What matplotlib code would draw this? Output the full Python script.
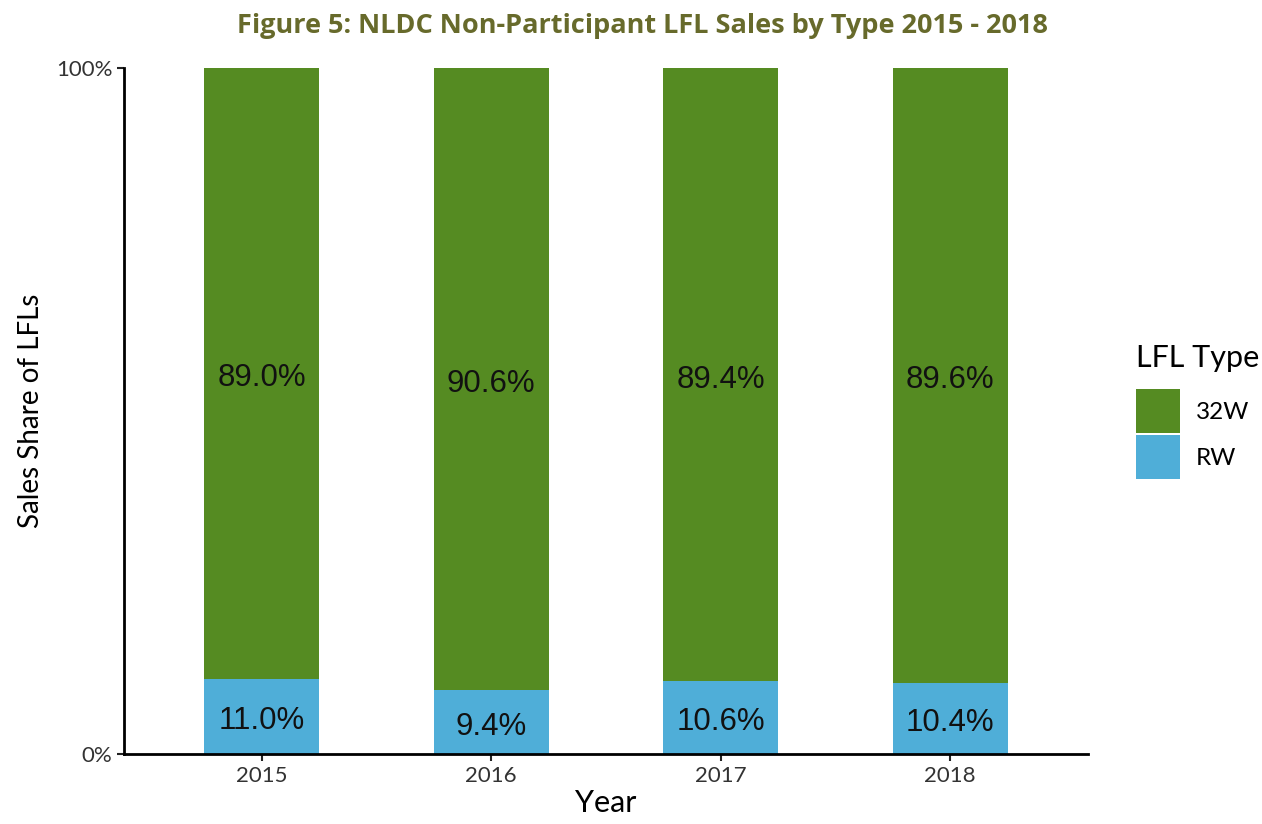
import matplotlib.pyplot as plt
from matplotlib.patches import Patch
from matplotlib.ticker import FixedLocator

years = ['2015', '2016', '2017', '2018']
rw_share = [11.0, 9.4, 10.6, 10.4]
w32_share = [89.0, 90.6, 89.4, 89.6]

green = '#558b22'
blue = '#4faed8'
label_font = 'Lato'

fig = plt.figure(figsize=(12.62, 8.24), dpi=100)
ax = fig.add_axes([0.0983, 0.085, 0.7637, 0.832])

x = list(range(1, len(years) + 1))
rw = [v / 100 for v in rw_share]
w32 = [v / 100 for v in w32_share]
ax.bar(x, rw, width=0.5, color=blue)
ax.bar(x, w32, width=0.5, bottom=rw, color=green)

# labels sit in the middle of each segment, nudged down a touch
for xi, r, g in zip(x, rw, w32):
    for yc, val in [(r / 2, r), (r + g / 2, g)]:
        ax.annotate(f'{val * 100:.1f}%', (xi, yc), xytext=(0, -3.5),
                    textcoords='offset points', ha='center', va='center',
                    fontsize=22.5, family='Liberation Sans', color='#111111')

ax.set_xlim(0.4, 4.6)
ax.set_ylim(0, 1)
ax.set_xticks(x)
ax.set_xticklabels(years, family=label_font, fontsize=16, color='#333333')
ax.yaxis.set_major_locator(FixedLocator([0, 1]))
ax.set_yticklabels(['0%', '100%'], family=label_font, fontsize=16, color='#333333')
ax.tick_params(length=5, width=1.5, color='#222222')

ax.set_xlabel('Year', family=label_font, fontsize=22, labelpad=2)
ax.set_ylabel('Sales Share of LFLs', family=label_font, fontsize=20, labelpad=8.5)

for side in ['top', 'right']:
    ax.spines[side].set_visible(False)
for side in ['left', 'bottom']:
    ax.spines[side].set_linewidth(2)
    ax.spines[side].set_color('black')

fig.text(0.5095, 0.968, 'Figure 5: NLDC Non-Participant LFL Sales by Type 2015 - 2018',
         ha='center', va='center', fontsize=19.5, fontweight='bold',
         family='Open Sans', color='#676a2b')

# square keys stacked almost flush, like the ggplot legend
handles = [Patch(facecolor=green, label='32W'), Patch(facecolor=blue, label='RW')]
leg = fig.legend(handles=handles, title='LFL Type', loc='upper left',
                 bbox_to_anchor=(0.9, 0.583), frameon=False,
                 prop={'family': label_font, 'size': 17.5},
                 handlelength=1.81, handleheight=2.41, labelspacing=0.08,
                 handletextpad=0.65, borderaxespad=0, borderpad=0)
leg.get_title().set_fontsize(22)
leg.get_title().set_family(label_font)
leg._legend_box.align = 'left'
leg._legend_box.sep = 12.8

fig.savefig('out.png', dpi=100)
